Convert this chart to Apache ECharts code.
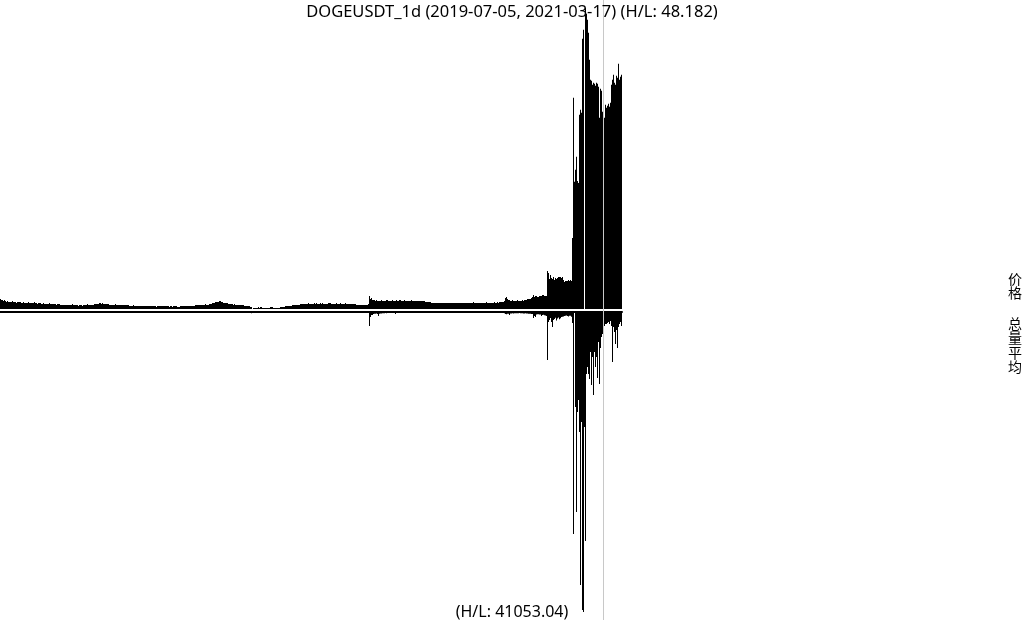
<!DOCTYPE html>
<html><head><meta charset="utf-8">
<script src="https://cdn.jsdelivr.net/npm/echarts@6/dist/echarts.min.js"></script>
<style>html,body{margin:0;padding:0;background:#fff}#c{width:1024px;height:620px}</style>
</head><body><div id="c"></div>
<script>
const symbol = 'DOGEUSDT_1d';
const startDate = '2019-07-05';
const endDate = '2021-03-17';
const priceHL = '48.182';
const volumeHL = '41053.04';
const markerDate = '2021-02-27';
const sideLabels = ['价格', '总量平均'];

// daily close price (USDT)
const price = [
0.00416,0.00391,0.00391,0.00365,0.00391,0.00365,0.00340,0.00365,0.00340,0.00340,
0.00340,0.00340,0.00365,0.00340,0.00340,0.00340,0.00314,0.00340,0.00340,0.00340,
0.00340,0.00314,0.00314,0.00340,0.00314,0.00314,0.00314,0.00314,0.00340,0.00314,
0.00314,0.00314,0.00314,0.00314,0.00340,0.00314,0.00314,0.00289,0.00314,0.00314,
0.00314,0.00289,0.00289,0.00314,0.00289,0.00289,0.00289,0.00289,0.00289,0.00314,
0.00289,0.00289,0.00289,0.00289,0.00289,0.00289,0.00264,0.00289,0.00289,0.00289,
0.00264,0.00264,0.00264,0.00264,0.00264,0.00264,0.00264,0.00264,0.00264,0.00264,
0.00264,0.00264,0.00289,0.00264,0.00264,0.00264,0.00264,0.00264,0.00238,0.00264,
0.00264,0.00264,0.00238,0.00264,0.00264,0.00264,0.00264,0.00289,0.00264,0.00264,
0.00264,0.00264,0.00264,0.00264,0.00289,0.00289,0.00289,0.00289,0.00289,0.00314,
0.00314,0.00289,0.00314,0.00289,0.00289,0.00289,0.00289,0.00289,0.00289,0.00264,
0.00264,0.00264,0.00264,0.00264,0.00264,0.00289,0.00264,0.00264,0.00264,0.00264,
0.00264,0.00264,0.00264,0.00264,0.00264,0.00264,0.00264,0.00264,0.00264,0.00238,
0.00238,0.00238,0.00238,0.00264,0.00238,0.00238,0.00238,0.00238,0.00238,0.00238,
0.00238,0.00238,0.00238,0.00238,0.00238,0.00238,0.00238,0.00238,0.00238,0.00238,
0.00238,0.00238,0.00238,0.00238,0.00238,0.00238,0.00213,0.00238,0.00238,0.00238,
0.00238,0.00238,0.00238,0.00238,0.00238,0.00238,0.00238,0.00238,0.00238,0.00213,
0.00238,0.00238,0.00213,0.00238,0.00238,0.00238,0.00238,0.00213,0.00213,0.00213,
0.00238,0.00238,0.00238,0.00238,0.00238,0.00238,0.00238,0.00238,0.00238,0.00238,
0.00238,0.00238,0.00238,0.00238,0.00238,0.00264,0.00264,0.00264,0.00264,0.00264,
0.00264,0.00264,0.00264,0.00264,0.00264,0.00289,0.00264,0.00264,0.00264,0.00289,
0.00289,0.00289,0.00314,0.00314,0.00314,0.00340,0.00340,0.00340,0.00340,0.00365,
0.00365,0.00340,0.00340,0.00314,0.00314,0.00314,0.00314,0.00314,0.00289,0.00289,
0.00289,0.00289,0.00289,0.00264,0.00289,0.00264,0.00264,0.00264,0.00264,0.00264,
0.00264,0.00264,0.00264,0.00264,0.00238,0.00238,0.00238,0.00238,0.00238,0.00238,
0.00213,0.00213,0.00162,0.00187,0.00187,0.00187,0.00187,0.00187,0.00213,0.00187,
0.00213,0.00213,0.00187,0.00187,0.00187,0.00187,0.00187,0.00187,0.00187,0.00187,
0.00213,0.00213,0.00213,0.00187,0.00187,0.00187,0.00187,0.00187,0.00187,0.00187,
0.00213,0.00213,0.00213,0.00213,0.00213,0.00238,0.00238,0.00238,0.00238,0.00238,
0.00238,0.00238,0.00264,0.00264,0.00264,0.00264,0.00264,0.00264,0.00264,0.00264,
0.00289,0.00289,0.00289,0.00289,0.00289,0.00289,0.00289,0.00289,0.00314,0.00289,
0.00289,0.00289,0.00289,0.00289,0.00314,0.00289,0.00314,0.00289,0.00289,0.00289,
0.00314,0.00289,0.00314,0.00289,0.00289,0.00289,0.00289,0.00289,0.00314,0.00314,
0.00314,0.00289,0.00289,0.00289,0.00289,0.00289,0.00314,0.00289,0.00289,0.00289,
0.00314,0.00289,0.00289,0.00289,0.00289,0.00314,0.00289,0.00289,0.00289,0.00289,
0.00289,0.00289,0.00289,0.00289,0.00289,0.00289,0.00264,0.00264,0.00264,0.00264,
0.00264,0.00264,0.00264,0.00264,0.00264,0.00264,0.00264,0.00264,0.00289,0.00492,
0.00416,0.00441,0.00391,0.00391,0.00391,0.00365,0.00391,0.00365,0.00365,0.00365,
0.00365,0.00391,0.00365,0.00365,0.00365,0.00365,0.00391,0.00391,0.00365,0.00365,
0.00365,0.00365,0.00391,0.00365,0.00365,0.00365,0.00391,0.00365,0.00365,0.00391,
0.00391,0.00365,0.00365,0.00365,0.00391,0.00365,0.00365,0.00365,0.00365,0.00365,
0.00365,0.00391,0.00365,0.00365,0.00365,0.00365,0.00365,0.00365,0.00365,0.00365,
0.00365,0.00365,0.00365,0.00365,0.00365,0.00340,0.00340,0.00340,0.00340,0.00340,
0.00340,0.00314,0.00314,0.00314,0.00314,0.00314,0.00314,0.00314,0.00314,0.00314,
0.00314,0.00314,0.00314,0.00314,0.00314,0.00314,0.00314,0.00314,0.00314,0.00314,
0.00314,0.00314,0.00314,0.00314,0.00314,0.00314,0.00314,0.00314,0.00314,0.00314,
0.00314,0.00314,0.00314,0.00314,0.00314,0.00314,0.00314,0.00314,0.00314,0.00314,
0.00314,0.00314,0.00314,0.00340,0.00314,0.00314,0.00314,0.00314,0.00314,0.00314,
0.00314,0.00314,0.00314,0.00314,0.00314,0.00314,0.00340,0.00314,0.00314,0.00314,
0.00314,0.00314,0.00314,0.00314,0.00340,0.00314,0.00314,0.00340,0.00314,0.00340,
0.00340,0.00340,0.00340,0.00340,0.00365,0.00441,0.00467,0.00416,0.00391,0.00391,
0.00365,0.00365,0.00391,0.00365,0.00365,0.00365,0.00365,0.00391,0.00365,0.00365,
0.00365,0.00365,0.00391,0.00365,0.00391,0.00391,0.00391,0.00416,0.00416,0.00416,
0.00416,0.00441,0.00467,0.00518,0.00467,0.00492,0.00492,0.00467,0.00467,0.00492,
0.00492,0.00492,0.00518,0.00518,0.00492,0.00492,0.00492,0.01127,0.01076,0.00924,
0.01026,0.00949,0.00924,0.00975,0.00899,0.00949,0.00924,0.00949,0.00975,0.00975,
0.00975,0.00949,0.00975,0.00899,0.00848,0.00873,0.00873,0.00873,0.00899,0.00873,
0.00899,0.00873,0.01965,0.05521,0.03388,0.03693,0.04023,0.03413,0.03362,0.05090,
0.05217,0.05140,0.07020,0.07249,null,0.07800,0.07655,0.07503,0.07172,0.06487,
0.05979,0.05953,0.05852,0.05902,0.05877,0.05826,0.05902,0.05877,0.05801,0.05013,
0.05750,0.05699,0.05166,0.05293,0.05013,0.05344,0.05267,0.05318,0.05369,0.05293,
0.05394,0.05852,0.05979,0.06106,0.05902,0.05852,0.06080,0.06029,0.06385,0.05979,
0.06055,0.06106
];

// daily volume (million USDT)
const volume = [
28,25,22,24,19,18,21,17,16,18,15,17,19,14,13,15,16,14,12,13,
12,14,11,13,12,10,11,12,9,10,11,13,10,9,8,10,9,11,8,9,
9,8,10,7,8,9,7,8,10,9,8,7,9,8,7,6,8,7,9,8,
7,6,8,7,6,7,9,6,5,7,6,8,7,6,5,6,7,5,6,7,
6,5,7,6,5,6,8,7,6,5,6,5,7,6,8,9,7,6,5,6,
9,8,7,6,5,6,5,7,6,5,4,5,6,5,4,5,6,4,5,5,
4,5,4,6,5,4,5,4,3,4,5,4,3,4,5,4,3,4,4,3,
3,4,3,4,3,3,4,3,5,4,3,3,4,3,4,3,3,4,3,3,
3,4,3,3,4,3,3,0.2,3,4,3,3,4,3,3,4,3,3,4,5,
4,3,4,3,4,5,4,3,4,4,3,4,5,4,6,7,6,5,6,5,
5,6,5,6,7,6,5,6,7,8,9,10,12,11,10,12,13,11,12,14,
15,12,11,10,9,10,9,8,7,8,7,8,6,7,6,7,8,9,10,12,
11,12,13,15,14,16,18,20,22,25,30,35,28,24,20,18,15,14,16,13,
12,11,10,11,9,10,9,8,9,8,9,10,9,8,7,8,7,6,7,8,
9,8,10,9,8,7,8,9,10,11,10,9,12,11,10,9,8,9,10,9,
9,10,11,10,9,10,11,12,13,12,11,10,9,10,11,10,12,11,10,9,
10,11,12,11,10,11,12,13,12,11,10,11,12,11,10,12,11,10,9,10,
11,12,11,10,9,10,11,10,9,8,9,10,9,8,9,10,8,9,8,9,
9,10,9,8,10,9,11,12,20,
383,137,82,82,55,48,45,40,52,110,45,
40,38,35,36,33,30,32,30,28,27,30,29,26,25,28,55,27,25,24,26,
25,24,23,25,27,24,22,23,21,22,20,21,22,20,19,20,21,19,18,20,
19,18,17,18,19,17,16,17,18,16,15,16,15,14,15,16,14,13,14,15,
14,13,14,12,13,14,12,13,12,11,12,13,12,11,12,11,10,11,12,11,
10,11,12,11,10,11,12,11,10,12,13,12,11,12,13,14,12,13,12,11,
12,13,14,15,13,14,16,15,14,15,16,17,15,16,18,17,19,20,18,21,
22,24,26,28,35,55,60,45,45,82,
40,38,35,42,36,33,31,35,32,30,33,36,34,38,40,37,39,42,45,48,50,55,52,
164,110,137,
70,65,60,72,68,110,82,75,90,95,110,
1314,274,219,164,274,411,219,190,160,230,180,150,200,170,140,130,120,110,100,95,110,120,105,100,130,300,
6076,27,2600,5474,2737,2409,3285,7472,3011,8157,8210.6,3148,6268,1700,1505,1697,1834,1095,1998,1232,
2272,1095,1505,1232,1807,821,1971,985,684,602,548,383,329,329,301,274,329,246,383,1369,
411,548,876,493,985,411,329,274,383
];

if (price.length !== 622 || volume.length !== 622) {
  throw new Error('length mismatch ' + price.length + ' ' + volume.length);
}

const dates = [];
(function () {
  let t = Date.parse(startDate + 'T00:00:00Z');
  for (let i = 0; i < price.length; i++) {
    dates.push(new Date(t).toISOString().slice(0, 10));
    t += 86400000;
  }
})();

const FONT = '"Noto Sans", "Noto Sans CJK SC", sans-serif';
const CJK = '"Noto Sans CJK SC", sans-serif';
const N = dates.length;

const chart = echarts.init(document.getElementById('c'), null, { renderer: 'canvas' });
chart.setOption({
  animation: false,
  backgroundColor: '#ffffff',
  title: [
    { text: symbol + ' (' + startDate + ', ' + endDate + ') (H/L: ' + priceHL + ')',
      left: 'center', top: 0, padding: [4, 0, 0, 0],
      textStyle: { fontSize: 16.5, fontWeight: 'normal', color: '#000', fontFamily: FONT } },
    { text: '(H/L: ' + volumeHL + ')',
      left: 'center', top: 600, padding: [4, 0, 0, 0],
      textStyle: { fontSize: 16, fontWeight: 'normal', color: '#000', fontFamily: FONT } },
    { text: sideLabels[0].split('').join('\n'), right: 2, top: 271, padding: 0,
      textStyle: { fontSize: 14, lineHeight: 14.5, fontWeight: 'normal', color: '#000', fontFamily: CJK } },
    { text: sideLabels[1].split('').join('\n'), right: 2, top: 316, padding: 0,
      textStyle: { fontSize: 14, lineHeight: 14.5, fontWeight: 'normal', color: '#000', fontFamily: CJK } }
  ],
  grid: [
    { left: 0, top: 8, width: N, height: 301 },
    { left: 0, top: 312, width: N, height: 300 },
    { left: 0, top: 0, width: N, height: 620 }
  ],
  xAxis: [
    { type: 'category', gridIndex: 0, data: dates, show: false },
    { type: 'category', gridIndex: 1, data: dates, position: 'top',
      axisLine: { show: true, onZero: false, lineStyle: { color: '#000', width: 2 } },
      axisTick: { show: false }, axisLabel: { show: false }, splitLine: { show: false } },
    { type: 'category', gridIndex: 2, data: dates, show: false }
  ],
  yAxis: [
    { type: 'value', gridIndex: 0, min: 'dataMin', max: 'dataMax', show: false, splitLine: { show: false } },
    { type: 'value', gridIndex: 1, min: 'dataMin', max: 'dataMax', inverse: true, show: false, splitLine: { show: false } },
    { type: 'value', gridIndex: 2, min: 0, max: 1, show: false, splitLine: { show: false } }
  ],
  series: [
    { type: 'bar', xAxisIndex: 0, yAxisIndex: 0, data: price, barWidth: 1,
      itemStyle: { color: '#000' }, silent: true },
    { type: 'bar', xAxisIndex: 1, yAxisIndex: 1, data: volume, barWidth: 1,
      itemStyle: { color: '#000' }, silent: true },
    { type: 'line', xAxisIndex: 2, yAxisIndex: 2, data: [], silent: true,
      markLine: { symbol: 'none', silent: true, animation: false, label: { show: false },
        lineStyle: { color: '#c8c8c8', width: 1, type: 'solid' },
        data: [{ xAxis: markerDate }] } }
  ]
});
</script>
</body></html>
